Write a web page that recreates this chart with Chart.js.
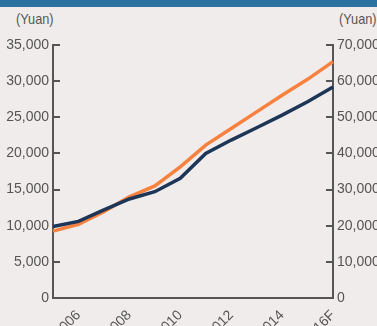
<!DOCTYPE html>
<html>
<head>
<meta charset="utf-8">
<script src="https://cdn.jsdelivr.net/npm/chart.js@4.4.1/dist/chart.umd.min.js"></script>
<style>
  html, body { margin: 0; padding: 0; background: #f0eceb; overflow: hidden; }
  #wrap { position: relative; width: 377px; height: 326px; overflow: hidden; }
  #band { position: absolute; left: 0; top: 0; width: 377px; height: 7px; background: #2b72a1; }
  .unit { position: absolute; top: 10px; font: 15px "Liberation Sans Narrow", "Liberation Sans", Arial, sans-serif; color: #555;
          transform: scaleX(0.85); transform-origin: left top; }
  #cv { position: absolute; left: 0; top: 0; }
</style>
</head>
<body>
<div id="wrap">
  <div id="band"></div>
  <div class="unit" style="left:16px;">(Yuan)</div>
  <div class="unit" style="left:339px;">(Yuan)</div>
  <canvas id="cv" width="377" height="326"></canvas>
</div>
<script>
// years on the x axis, only the even ones get a label
var years = ['2005', '2006', '2007', '2008', '2009', '2010', '2011', '2012', '2013', '2014', '2015', '2016F'];
var shownYears = ['2006', '2008', '2010', '2012', '2014', '2016F'];

// navy line, left axis
var leftSeries = [9900, 10600, 12200, 13700, 14700, 16550, 20000, 21850, 23550, 25300, 27150, 29200];
// orange line, right axis
var rightSeries = [18500, 20400, 23900, 28000, 31000, 36300, 42300, 46900, 51500, 56100, 60500, 65400];

var leftTicks = [0, 5000, 10000, 15000, 20000, 25000, 30000, 35000];
var rightTicks = [0, 10000, 20000, 30000, 40000, 50000, 60000, 70000];

var FONT = { family: '"Liberation Sans Narrow", "Liberation Sans", Arial, sans-serif', size: 14 };
var GREY = '#555555';

function fmt(v) { return v.toLocaleString('en-US'); }

var ctx = document.getElementById('cv').getContext('2d');
var chart = new Chart(ctx, {
    type: 'line',
    data: {
        labels: years,
        datasets: [{
            data: leftSeries,
            yAxisID: 'yL',
            borderColor: '#1d3557',
            borderWidth: 3.5,
            pointRadius: 0,
            tension: 0
        }, {
            data: rightSeries,
            yAxisID: 'yR',
            borderColor: '#f7823f',
            borderWidth: 3.5,
            pointRadius: 0,
            tension: 0
        }]
    },
    options: {
        responsive: false,
        animation: false,
        layout: { padding: { top: 45, left: 0, right: 0, bottom: 0 } },
        plugins: { legend: { display: false }, tooltip: { enabled: false } },
        scales: {
            x: {
                offset: false,
                grid: { display: false, drawTicks: false },
                border: { display: true, color: GREY, width: 2 },
                ticks: {
                    autoSkip: false,
                    maxRotation: 45,
                    minRotation: 45,
                    padding: 9,
                    color: GREY,
                    font: FONT,
                    callback: function(v, i) {
                        var y = years[i];
                        return shownYears.indexOf(y) >= 0 ? y : '';
                    }
                },
                afterFit: function(s) { s.height = 28; }
            },
            yL: {
                position: 'left',
                min: 0,
                max: 35000,
                afterBuildTicks: function(s) { s.ticks = leftTicks.map(function(v) { return { value: v }; }); },
                grid: { drawOnChartArea: false, color: GREY, lineWidth: 2, tickLength: -7 },
                border: { display: true, color: GREY, width: 2 },
                ticks: { color: GREY, font: FONT, padding: 11, callback: function(v) { return fmt(v); } },
                afterFit: function(s) { s.width = 53; }
            },
            yR: {
                position: 'right',
                min: 0,
                max: 70000,
                afterBuildTicks: function(s) { s.ticks = rightTicks.map(function(v) { return { value: v }; }); },
                grid: { drawOnChartArea: false, color: GREY, lineWidth: 2, tickLength: -7 },
                border: { display: true, color: GREY, width: 2 },
                ticks: { color: GREY, font: FONT, padding: 11, callback: function(v) { return fmt(v); } },
                afterFit: function(s) { s.width = 44; }
            }
        }
    }
});
</script>
</body>
</html>
